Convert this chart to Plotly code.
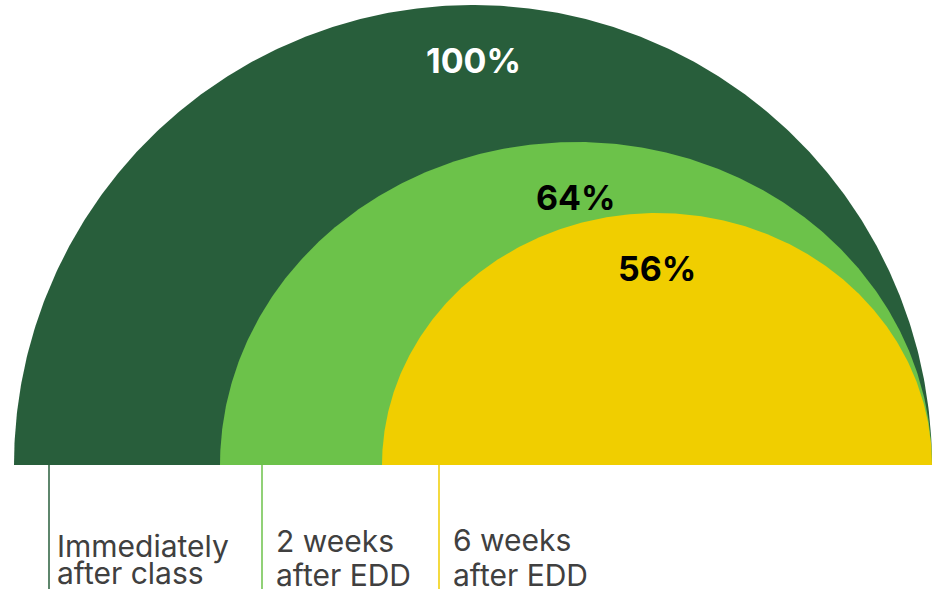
import numpy as np
import plotly.graph_objects as go

# ---- data ----
categories = ["Immediately<br>after class", "2 weeks<br>after EDD", "6 weeks<br>after EDD"]
values = [100, 64, 56]
value_labels = [f"{v}%" for v in values]

# ---- geometry / style (pixel-like units) ----
W, H = 932, 589
base_y = 465
right_x = 932
radii_x = [459, 356, 275]
radii_y = [460, 323, 252]
colors = ["#285E3B", "#6CC24A", "#F0CE00"]
value_font_colors = ["#FFFFFF", "#000000", "#000000"]
label_offset = 55
tick_x = [49, 262, 439]
text_dx = [6, 12, 12]
line_centers = [[546, 573], [541, 575], [540, 575]]

fig = go.Figure()
t = np.linspace(0, np.pi, 400)
for i, (rx, ry) in enumerate(zip(radii_x, radii_y)):
    cx = right_x - rx
    xs = np.concatenate([cx + rx * np.cos(t), [cx + rx]])
    ys = np.concatenate([base_y - ry * np.sin(t), [base_y]])
    fig.add_trace(go.Scatter(x=xs, y=ys, mode="lines", fill="toself",
                             fillcolor=colors[i], line=dict(width=0, color=colors[i]),
                             hoverinfo="skip", showlegend=False))
    fig.add_annotation(x=cx, y=base_y - ry + label_offset, text=f"<b>{value_labels[i]}</b>",
                       showarrow=False, xanchor="center", yanchor="middle",
                       font=dict(family="Inter", size=34, color=value_font_colors[i]))
    # tick line
    fig.add_trace(go.Scatter(x=[tick_x[i], tick_x[i]], y=[base_y, H + 5], mode="lines",
                             line=dict(width=1.5, color=colors[i]), hoverinfo="skip",
                             showlegend=False))
    for j, line in enumerate(categories[i].split("<br>")):
        fig.add_annotation(x=tick_x[i] + text_dx[i], y=line_centers[i][j], text=line,
                           showarrow=False, xanchor="left", yanchor="middle",
                           font=dict(family="Inter", size=30, color="#404040"))

fig.update_xaxes(range=[0, W], visible=False, fixedrange=True)
fig.update_yaxes(range=[H, 0], visible=False, fixedrange=True)
fig.update_layout(width=W, height=H, margin=dict(l=0, r=0, t=0, b=0),
                  plot_bgcolor="white", paper_bgcolor="white")
fig.write_html("out.html", config={"displayModeBar": False},
               post_script="document.body.style.margin='0';document.body.style.overflow='hidden';")
